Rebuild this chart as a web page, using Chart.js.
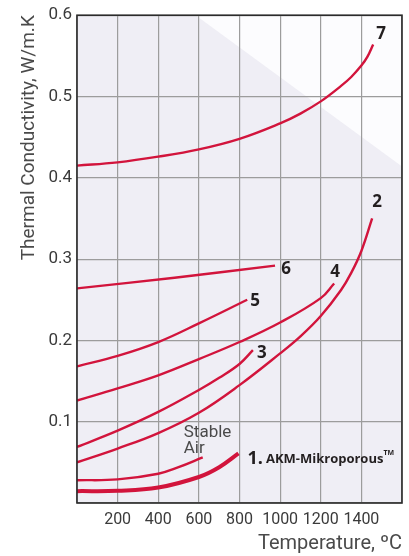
<!DOCTYPE html>
<html>
<head>
<meta charset="utf-8">
<script src="https://cdn.jsdelivr.net/npm/chart.js@4"></script>
<style>
  html, body { margin: 0; padding: 0; background: #fff; }
  #wrap { width: 409px; height: 556px; position: relative; }
</style>
</head>
<body>
<div id="wrap"><canvas id="kChart"></canvas></div>
<script>
// ---- data ----
const xTickLabels = ['200', '400', '600', '800', '1000', '1200', '1400'];
const yTickLabels = ['0.1', '0.2', '0.3', '0.4', '0.5', '0.6'];

const temps7 = [0, 200, 400, 600, 800, 1000, 1100, 1200, 1300, 1350, 1400, 1430, 1458];
const k7     = [0.415, 0.419, 0.426, 0.435, 0.448, 0.467, 0.479, 0.494, 0.513, 0.524, 0.538, 0.549, 0.564];

const temps6 = [0, 480, 975];
const k6     = [0.264, 0.277, 0.292];

const temps5 = [0, 200, 400, 600, 838];
const k5     = [0.168, 0.181, 0.198, 0.221, 0.250];

const temps4 = [0, 200, 400, 600, 800, 1000, 1200, 1266];
const k4     = [0.126, 0.141, 0.157, 0.177, 0.198, 0.222, 0.252, 0.270];

const temps3 = [0, 200, 400, 600, 700, 800, 866];
const k3     = [0.069, 0.089, 0.112, 0.139, 0.154, 0.171, 0.188];

const temps2 = [0, 200, 400, 600, 800, 1000, 1100, 1200, 1300, 1350, 1400, 1453];
const k2     = [0.050, 0.067, 0.086, 0.111, 0.145, 0.184, 0.205, 0.230, 0.262, 0.283, 0.310, 0.350];

const tempsAir = [0, 200, 400, 500, 619];
const kAir     = [0.028, 0.029, 0.036, 0.044, 0.056];

const temps1 = [0, 200, 400, 600, 700, 795];
const k1     = [0.0146, 0.015, 0.019, 0.032, 0.044, 0.061];

const curveNames = ['7', '6', '5', '4', '3', '2', 'Stable Air', '1. AKM-Mikroporous™'];

// ---- helpers ----
const RED = '#d2143c';
const FONT = "Roboto, sans-serif";
const BOLD = "'Open Sans', sans-serif";
const toPts = (xs, ys) => xs.map((x, i) => ({ x: x, y: ys[i] }));

function curve(label, xs, ys, width) {
    return {
        label: label,
        data: toPts(xs, ys),
        borderColor: RED,
        borderWidth: width,
        pointRadius: 0,
        showLine: true,
        fill: false,
        tension: 0.4,
        borderCapStyle: 'butt'
    };
}

// background, frame and the curve labels
const decor = {
    id: 'decor',
    beforeDraw(chart) {
        const { ctx, chartArea: a } = chart;
        const w = a.right - a.left, h = a.bottom - a.top;
        ctx.save();
        ctx.fillStyle = '#efeef5';
        ctx.fillRect(a.left, a.top, w, h);
        // pale corner top right
        ctx.fillStyle = '#fcfcfe';
        ctx.beginPath();
        ctx.moveTo(a.left + w * 0.365, a.top);
        ctx.lineTo(a.right, a.top);
        ctx.lineTo(a.right, a.top + h * 0.31);
        ctx.closePath();
        ctx.fill();
        ctx.restore();
    },
    afterDraw(chart) {
        const { ctx, chartArea: a } = chart;
        ctx.save();
        ctx.strokeStyle = '#2b2b2b';
        ctx.lineWidth = 1.6;
        ctx.strokeRect(a.left, a.top, a.right - a.left, a.bottom - a.top);

        const ends = chart.data.datasets.map((ds, i) => {
            const pts = chart.getDatasetMeta(i).data;
            return pts[pts.length - 1];
        });
        const num = (txt, p, dx, dy) => {
            ctx.font = "bold 17px " + BOLD;
            ctx.fillStyle = '#231f20';
            ctx.textAlign = 'center';
            ctx.textBaseline = 'middle';
            ctx.fillText(txt, p.x + dx, p.y + dy);
        };
        num(curveNames[0], ends[0], 8, -10);
        num(curveNames[1], ends[1], 11, 4);
        num(curveNames[2], ends[2], 8, 1);
        num(curveNames[3], ends[3], 1, -11);
        num(curveNames[4], ends[4], 9, 3);
        num(curveNames[5], ends[5], 5, -16);

        // Stable Air
        const pa = ends[6];
        const airWords = curveNames[6].split(' ');
        ctx.font = "17px " + FONT;
        ctx.fillStyle = '#4a4a4a';
        ctx.textAlign = 'left';
        ctx.textBaseline = 'middle';
        ctx.fillText(airWords[0], pa.x - 19, pa.y - 25);
        ctx.fillText(airWords[1], pa.x - 19, pa.y - 9);

        // 1. AKM-Mikroporous™
        const p1 = ends[7];
        const parts = curveNames[7].replace('™', '').split(' ');
        let x = p1.x + 9;
        const y = p1.y + 5;
        ctx.fillStyle = '#231f20';
        ctx.font = "bold 18px " + BOLD;
        ctx.fillText(parts[0], x, y);
        x += ctx.measureText(parts[0]).width + 3;
        ctx.font = "bold 13px " + BOLD;
        ctx.fillText(parts[1], x, y + 1);
        x += ctx.measureText(parts[1]).width;
        ctx.font = "bold 7px " + BOLD;
        ctx.fillText('TM', x, y - 5);
        ctx.restore();
    }
};

new Chart(document.getElementById('kChart'), {
    type: 'scatter',
    data: {
        datasets: [
            curve(curveNames[0], temps7, k7, 2.4),
            curve(curveNames[1], temps6, k6, 2.4),
            curve(curveNames[2], temps5, k5, 2.4),
            curve(curveNames[3], temps4, k4, 2.4),
            curve(curveNames[4], temps3, k3, 2.4),
            curve(curveNames[5], temps2, k2, 2.4),
            curve(curveNames[6], tempsAir, kAir, 2.4),
            curve(curveNames[7], temps1, k1, 4)
        ]
    },
    options: {
        responsive: true,
        maintainAspectRatio: false,
        animation: false,
        layout: { padding: { top: 11, right: 1, left: 0, bottom: 0 } },
        plugins: {
            legend: { display: false },
            tooltip: { enabled: false }
        },
        scales: {
            x: {
                type: 'linear',
                min: 0,
                max: 1600,
                afterFit: (s) => { s.height = 53; },
                ticks: {
                    stepSize: 200,
                    padding: 7,
                    maxRotation: 0,
                    autoSkip: false,
                    color: '#3a3a3a',
                    font: { family: FONT, size: 16 },
                    callback: (v) => xTickLabels.includes(String(v)) ? String(v) : ''
                },
                grid: { color: '#9c9c9c', lineWidth: 1.2, drawTicks: false },
                border: { display: false },
                title: {
                    display: true,
                    text: 'Temperature, ºC',
                    align: 'end',
                    color: '#4a4a4a',
                    font: { family: FONT, size: 20 },
                    padding: { top: 0, bottom: 0 }
                }
            },
            y: {
                type: 'linear',
                min: 0,
                max: 0.6,
                afterFit: (s) => { s.width = 77; },
                ticks: {
                    stepSize: 0.1,
                    padding: 5,
                    color: '#3a3a3a',
                    font: { family: FONT, size: 17 },
                    callback: (v) => {
                        const t = v.toFixed(1);
                        return yTickLabels.includes(t) ? t : '';
                    }
                },
                grid: { color: '#9c9c9c', lineWidth: 1.2, drawTicks: false },
                border: { display: false },
                title: {
                    display: true,
                    text: 'Thermal Conductivity, W/m.K',
                    align: 'end',
                    color: '#4a4a4a',
                    font: { family: FONT, size: 19 },
                    padding: { top: 18, bottom: 0 }
                }
            }
        }
    },
    plugins: [decor]
});
</script>
</body>
</html>
